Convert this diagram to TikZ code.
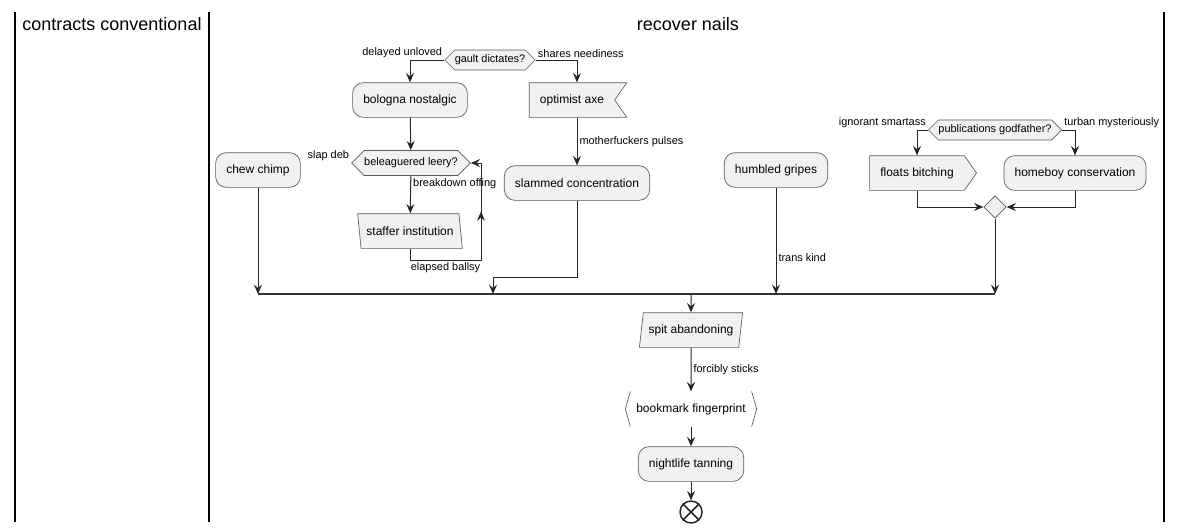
\documentclass[tikz,border=0pt]{standalone}
\usepackage{fontspec}
\setmainfont{Liberation Sans}
\usetikzlibrary{calc,arrows.meta,shapes.geometric,shapes.symbols}
\definecolor{actfill}{HTML}{F1F1F1}
\definecolor{actline}{HTML}{5B5B5B}
\tikzset{
  box/.style={draw=actline, fill=actfill, line width=0.5pt, minimum height=26pt, inner xsep=8pt, font=\fontsize{9}{11}\selectfont},
  act/.style={box, rounded corners=8pt},
  choice/.style={box, signal, signal to=west and east, minimum height=15pt, inner xsep=0pt, font=\fontsize{8.2}{10}\selectfont},
  slantr/.style={box, trapezium, trapezium stretches=true, trapezium left angle=79, trapezium right angle=101, inner xsep=4pt},
  slantl/.style={box, trapezium, trapezium stretches=true, trapezium left angle=101, trapezium right angle=79, inner xsep=4pt},
  plain/.style={minimum height=26pt, inner xsep=8pt, font=\fontsize{9}{11}\selectfont},
  bracket/.style={draw=actline, line width=0.5pt},
  merge/.style={diamond, draw=actline, fill=actfill, line width=0.5pt, minimum size=17pt, inner sep=0pt},
  stopc/.style={circle, draw=black!85, line width=1.1pt, minimum size=16.5pt, inner sep=0pt},
  lbl/.style={font=\fontsize{8.2}{10}\selectfont, inner sep=1.5pt},
  title/.style={font=\fontsize{13.5}{15}\selectfont},
  lane/.style={draw=black, line width=1.1pt},
  line/.style={draw=black!85, line width=0.75pt},
  flow/.style={line, -{Stealth[length=7pt,width=6pt,inset=2.5pt]}},
  bar/.style={draw=black!80, line width=1.5pt}
}
\begin{document}
\begin{tikzpicture}[x=0.75pt,y=-0.75pt]
\useasboundingbox (0,0) rectangle (1182,532);
% lanes
\draw[lane] (15,12) -- (15,522);
\draw[lane] (209,12) -- (209,522);
\draw[lane] (1164,12) -- (1164,522);
\node[title] (t1) at (112,24) {contracts conventional};
\node[title] (t2) at (688,24) {recover nails};

\node[choice] (gault) at (490,60) {gault dictates?};
\node[act] (bologna) at (410,100) {bologna nostalgic};
\node[box, signal, signal to=nowhere, signal from=east, signal pointer angle=110] (optimist) at (572,100) {optimist axe};
\node[choice, minimum height=18.75pt] (leery) at (411,163) {beleaguered leery?};
\node[slantl] (staffer) at (410,231) {staffer institution};
\node[act] (slammed) at (577,183) {slammed concentration};
\node[act] (chew) at (258,170) {chew chimp};
\node[act] (humbled) at (776,170) {humbled gripes};
\node[choice] (pub) at (995,130) {publications godfather?};
\node[box, signal, signal to=east, signal pointer angle=110] (floats) at (917,173) {floats bitching};
\node[act] (homeboy) at (1075,173) {homeboy conservation};
\node[merge] (merge) at (995,207) {};
\node[slantr] (spit) at (691,330) {spit abandoning};
\node[plain] (bookmark) at (691,409) {bookmark fingerprint};
\node[act] (nightlife) at (691,464) {nightlife tanning};
\node[stopc] (stop) at (691,512) {};

\coordinate (barl) at (258,294);
\coordinate (barr) at (995,294);
\coordinate (loopb) at (481,260);
\coordinate (loopt) at (481,163);
\coordinate (slamj) at (493,277);

\draw[flow] (gault.west) -| (bologna.north);
\draw[flow] (gault.east) -| ($(optimist.north)+(5,0)$);
\node[lbl, anchor=south east] at (gault.west) {delayed unloved};
\node[lbl, anchor=south west] at (gault.east) {shares neediness};
\draw[flow] (bologna) -- (leery);
\node[lbl, anchor=south east] at (leery.west) {slap deb};
\draw[flow] (leery) -- (staffer) node[lbl, pos=0.2, right] {breakdown offing};
\draw[line] (staffer.south) |- (loopb) node[lbl, pos=0.75, below] {elapsed ballsy} -- (loopt);
\draw[flow] (loopb) -- ($(loopb)!0.5!(loopt)$);
\draw[flow] (loopt) -- (leery.east);
\draw[flow] ($(optimist.south)+(5,0)$) -- (slammed) node[lbl, midway, right] {motherfuckers pulses};
\draw[flow] (slammed.south) |- (slamj) -- (slamj |- barl);
\draw[flow] (chew) -- (chew |- barl);
\draw[flow] (humbled) -- (humbled |- barl) node[lbl, pos=0.66, right] {trans kind};
\draw[flow] (pub.west) -| (floats.north);
\draw[flow] (pub.east) -| (homeboy.north);
\node[lbl, anchor=south east] at (pub.west) {ignorant smartass};
\node[lbl, anchor=south west] at (pub.east) {turban mysteriously};
\draw[flow] (floats.south) |- (merge.west);
\draw[flow] (homeboy.south) |- (merge.east);
\draw[flow] (merge.south) -- (merge |- barl);
\draw[bar] (barl) -- (barr);
\draw[flow] (spit |- barl) -- (spit.north);
\draw[flow] (spit) -- (bookmark) node[lbl, midway, right] {forcibly sticks};
\draw[bracket] ($(bookmark.north west)+(5,0)$) -- (bookmark.west) -- ($(bookmark.south west)+(5,0)$);
\draw[bracket] ($(bookmark.north east)+(-5,0)$) -- (bookmark.east) -- ($(bookmark.south east)+(-5,0)$);
\draw[flow] (bookmark) -- (nightlife);
\draw[flow] (nightlife) -- (stop);
\draw[line, line width=1.1pt] (stop.north west) -- (stop.south east) (stop.north east) -- (stop.south west);
\end{tikzpicture}
\end{document}
